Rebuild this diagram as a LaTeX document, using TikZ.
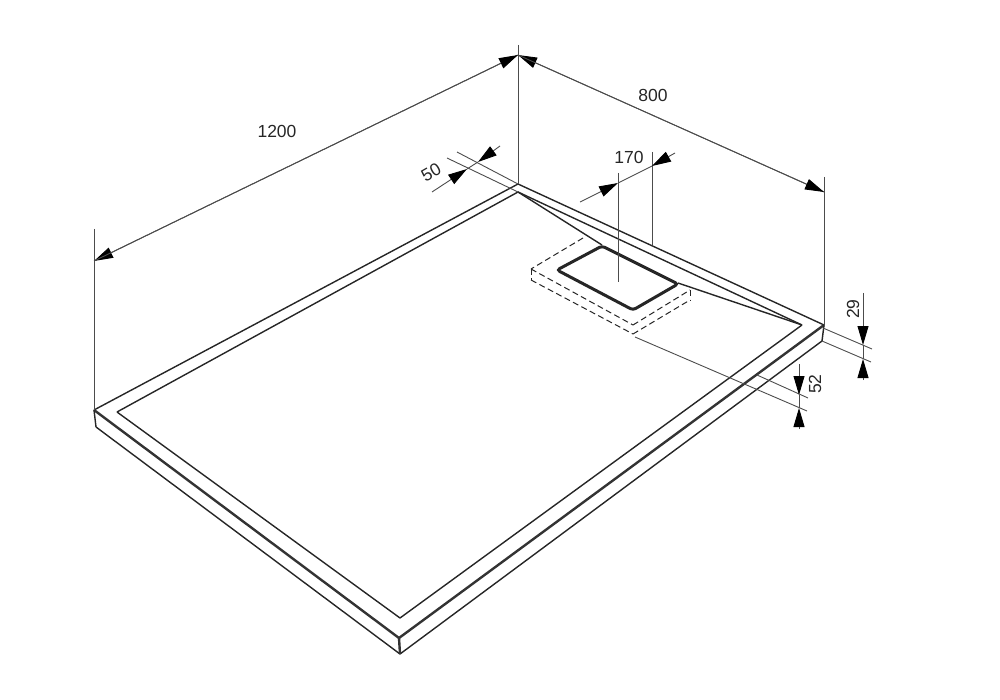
\documentclass[tikz,border=0pt]{standalone}
\usepackage{fontspec}
\setmainfont{Liberation Sans}
\usetikzlibrary{arrows.meta}
\tikzset{
  edge/.style={line width=1.4pt,color=black!85},
  heavy/.style={line width=2.4pt,color=black!80},
  thinline/.style={line width=0.9pt,color=black!70},
  hidden/.style={line width=1pt,color=black!85,dash pattern=on 6pt off 3.5pt},
  dimtip/.style={-{Triangle[length=19pt,width=11pt,color=black]},line width=0.9pt,color=black!70},
  dimlabel/.style={font=\fontsize{17.5}{20}\selectfont,color=black!85,inner sep=0pt}
}
\begin{document}
\begin{tikzpicture}
[x=1pt,y=-1pt]
\useasboundingbox (0,0) rectangle (1000,700);
  % tray corners
  \coordinate (left) at (94,410);
  \coordinate (back) at (518,184);
  \coordinate (right) at (824,325);
  \coordinate (front) at (399,638);
  \coordinate (leftlow) at (96,427);
  \coordinate (rightlow) at (822,341);
  \coordinate (frontlow) at (400,654);
  \coordinate (ileft) at (117,412);
  \coordinate (iback) at (518,192);
  \coordinate (iright) at (802,325);
  \coordinate (ifront) at (400,618);
  % slope
  \coordinate (s1) at (602,245);
  \coordinate (s2) at (678,283);
  % drain
  \coordinate (d1) at (602,246);
  \coordinate (d2) at (678,284);
  \coordinate (d3) at (633,310);
  \coordinate (d4) at (557,270);
  % dashed box
  \coordinate (b1) at (583,238);
  \coordinate (b2) at (531,269);
  \coordinate (b3) at (531,280);
  \coordinate (b4) at (633,325);
  \coordinate (b5) at (633,334);
  \coordinate (b6) at (690,290);
  \coordinate (b7) at (690,300);
  % extension lines
  \coordinate (e1) at (94,229);
  \coordinate (e2) at (518,45);
  \coordinate (e3) at (824,177);
  \coordinate (e4) at (457,152);
  \coordinate (e5) at (447,158);
  \coordinate (e6) at (618,173);
  \coordinate (e7) at (618,282);
  \coordinate (e8) at (652,152);
  \coordinate (e9) at (652,245);
  \coordinate (e10) at (823,328);
  \coordinate (e11) at (872,349);
  \coordinate (e12) at (871,362);
  \coordinate (e13) at (757,375);
  \coordinate (e14) at (808,398);
  \coordinate (e15) at (635,337);
  \coordinate (e16) at (807,411);
  % dimension ends
  \coordinate (w1) at (94,261);
  \coordinate (w2) at (518,55);
  \coordinate (w3) at (824,192);
  \coordinate (f1) at (432,192);
  \coordinate (f2) at (467,169);
  \coordinate (f3) at (478,162);
  \coordinate (f4) at (500,146);
  \coordinate (g1) at (580,202);
  \coordinate (g2) at (618,183);
  \coordinate (g3) at (652,166);
  \coordinate (g4) at (675,153);
  \coordinate (h1) at (863,293);
  \coordinate (h2) at (863,345);
  \coordinate (h3) at (863,359);
  \coordinate (h4) at (863,380);
  \coordinate (k1) at (799,364);
  \coordinate (k2) at (799,395);
  \coordinate (k3) at (799,408);
  \coordinate (k4) at (799,429);
  % labels
  \node [dimlabel] (l1200) at (277,131) {1200};
  \node [dimlabel] (l800) at (653,95) {800};
  \node [dimlabel,rotate=30] (l50) at (431,172) {50};
  \node [dimlabel] (l170) at (629,157) {170};
  \node [dimlabel,rotate=90] (l29) at (853,309) {29};
  \node [dimlabel,rotate=90] (l52) at (815,384) {52};
  % outline
  \foreach \from/\to in {left/back,back/right,ileft/iback,iback/iright,iright/ifront,ifront/ileft,
    leftlow/frontlow,frontlow/rightlow,iback/s1,s2/iright}
  \draw[edge] (\from) -- (\to);
  \foreach \from/\to in {left/front,front/right}
  \draw[heavy] (\from) -- (\to);
  \draw[edge] (left) -- (leftlow);
  \draw[edge] (right) -- (rightlow);
  \draw[heavy] (front) -- (frontlow);
  % drain
  \draw[line width=3pt,rounded corners=3pt,color=black!85] (d1) -- (d2) -- (d3) -- (d4) -- cycle;
  \foreach \from/\to in {b1/b2,b2/b4,b3/b5,b4/b6,b5/b7,b2/b3,b6/b7}
  \draw[hidden] (\from) -- (\to);
  % extension lines
  \foreach \from/\to in {e1/left,e2/back,e3/right,e4/back,e5/iback,e6/e7,e8/e9,e10/e11,rightlow/e12,e13/e14,e15/e16}
  \draw[thinline] (\from) -- (\to);
  % dimensions
  \foreach \from/\to in {w2/w1,w3/w2,w1/w2,w2/w3,f1/f2,f4/f3,g1/g2,g4/g3,h1/h2,h4/h3,k1/k2,k4/k3}
  \draw[dimtip] (\from) -- (\to);
  \foreach \from/\to in {f2/f3,g2/g3,h2/h3,k2/k3}
  \draw[thinline] (\from) -- (\to);
\end{tikzpicture}
\end{document}
